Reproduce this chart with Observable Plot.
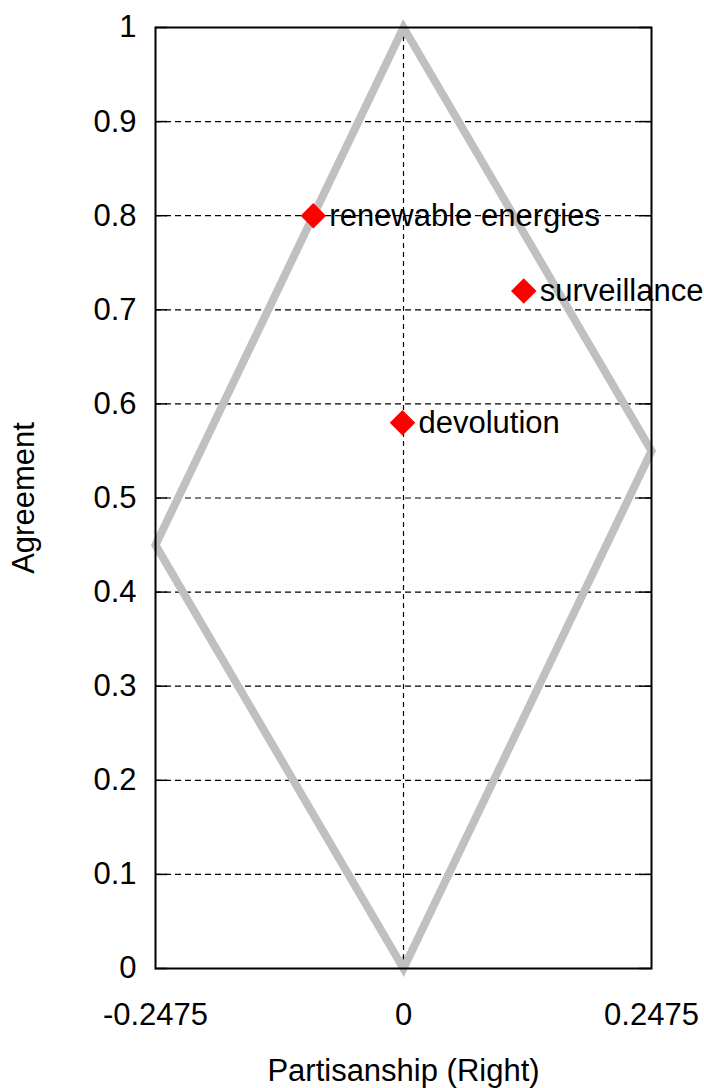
<!DOCTYPE html>
<html>
<head>
<meta charset="utf-8">
<script src="https://cdn.jsdelivr.net/npm/d3@7"></script>
<script src="https://cdn.jsdelivr.net/npm/@observablehq/plot@0.6"></script>
<style>
  html, body { margin: 0; padding: 0; background: #fff; }
</style>
</head>
<body>
<div id="chart"></div>
<script>
// Issues placed by partisanship (x) and agreement (y)
const issues = ["renewable energies", "surveillance", "devolution"];
const partisanship = [-0.09, 0.12, -0.001];
const agreement = [0.8, 0.72, 0.58];

// Outline of the feasible region (closed, first edge repeated for a clean join)
const boundaryX = [0, 0.2475, 0, -0.2475, 0, 0.2475];
const boundaryY = [1, 0.55, 0, 0.45, 1, 0.55];

// Axis ticks and labels
const xTicks = [-0.2475, 0, 0.2475];
const xTickLabels = ["-0.2475", "0", "0.2475"];
const yTicks = [0, 0.1, 0.2, 0.3, 0.4, 0.5, 0.6, 0.7, 0.8, 0.9, 1];
const yTickLabels = ["0", "0.1", "0.2", "0.3", "0.4", "0.5", "0.6", "0.7", "0.8", "0.9", "1"];

const points = issues.map((name, i) => ({name, x: partisanship[i], y: agreement[i]}));
const boundary = boundaryX.map((x, i) => ({x, y: boundaryY[i]}));

const W = 704, H = 1088;
const mL = 155, mR = 53, mT = 27, mB = 120;
const innerW = W - mL - mR, innerH = H - mT - mB;
const tickLen = 12;
const fs = 31;
const font = "'Liberation Sans', Arial, Helvetica, sans-serif";

const chart = Plot.plot({
  width: W,
  height: H,
  marginLeft: mL,
  marginRight: mR,
  marginTop: mT,
  marginBottom: mB,
  style: {fontFamily: font, fontSize: fs + "px", color: "black", background: "white"},
  x: {domain: [-0.2475, 0.2475]},
  y: {domain: [0, 1]},
  marks: [
    // dashed grid
    Plot.ruleY(yTicks, {stroke: "black", strokeWidth: 1.2, strokeDasharray: "6,4"}),
    Plot.ruleX([0], {stroke: "black", strokeWidth: 1.2, strokeDasharray: "5,4"}),
    // inward ticks, mirrored on both sides
    Plot.tickY(yTicks, {y: d => d, stroke: "black", strokeWidth: 1.5, insetRight: innerW - tickLen}),
    Plot.tickY(yTicks, {y: d => d, stroke: "black", strokeWidth: 1.5, insetLeft: innerW - tickLen}),
    Plot.tickX([0], {x: d => d, stroke: "black", strokeWidth: 1.5, insetTop: innerH - tickLen}),
    Plot.tickX([0], {x: d => d, stroke: "black", strokeWidth: 1.5, insetBottom: innerH - tickLen}),
    // axis tick labels
    Plot.axisY(yTicks, {
      anchor: "left", tickSize: 0, tickPadding: 19, fontSize: fs,
      tickFormat: d => yTickLabels[yTicks.indexOf(d)], label: null
    }),
    Plot.axisX(xTicks, {
      anchor: "bottom", tickSize: 0, tickPadding: 34, fontSize: fs,
      tickFormat: d => xTickLabels[xTicks.indexOf(d)], label: null
    }),
    // axis titles
    Plot.text(["Agreement"], {
      frameAnchor: "left", dx: -131, rotate: -90,
      textAnchor: "middle", lineAnchor: "middle", fontSize: fs, fill: "black"
    }),
    Plot.text(["Partisanship (Right)"], {
      frameAnchor: "bottom", dy: 103,
      textAnchor: "middle", lineAnchor: "middle", fontSize: fs, fill: "black"
    }),
    // region outline
    Plot.line(boundary, {x: "x", y: "y", stroke: "#c0c0c0", strokeWidth: 8, strokeLinejoin: "miter", strokeMiterlimit: 10}),
    // frame
    Plot.frame({stroke: "black", strokeWidth: 2}),
    // issues
    Plot.dot(points, {x: "x", y: "y", symbol: "diamond2", r: 11.5, fill: "#ff0000", stroke: "none"}),
    Plot.text(points, {x: "x", y: "y", text: "name", textAnchor: "start", dx: 16, fontSize: fs, fill: "black"})
  ]
});

document.getElementById("chart").appendChild(chart);
</script>
</body>
</html>
